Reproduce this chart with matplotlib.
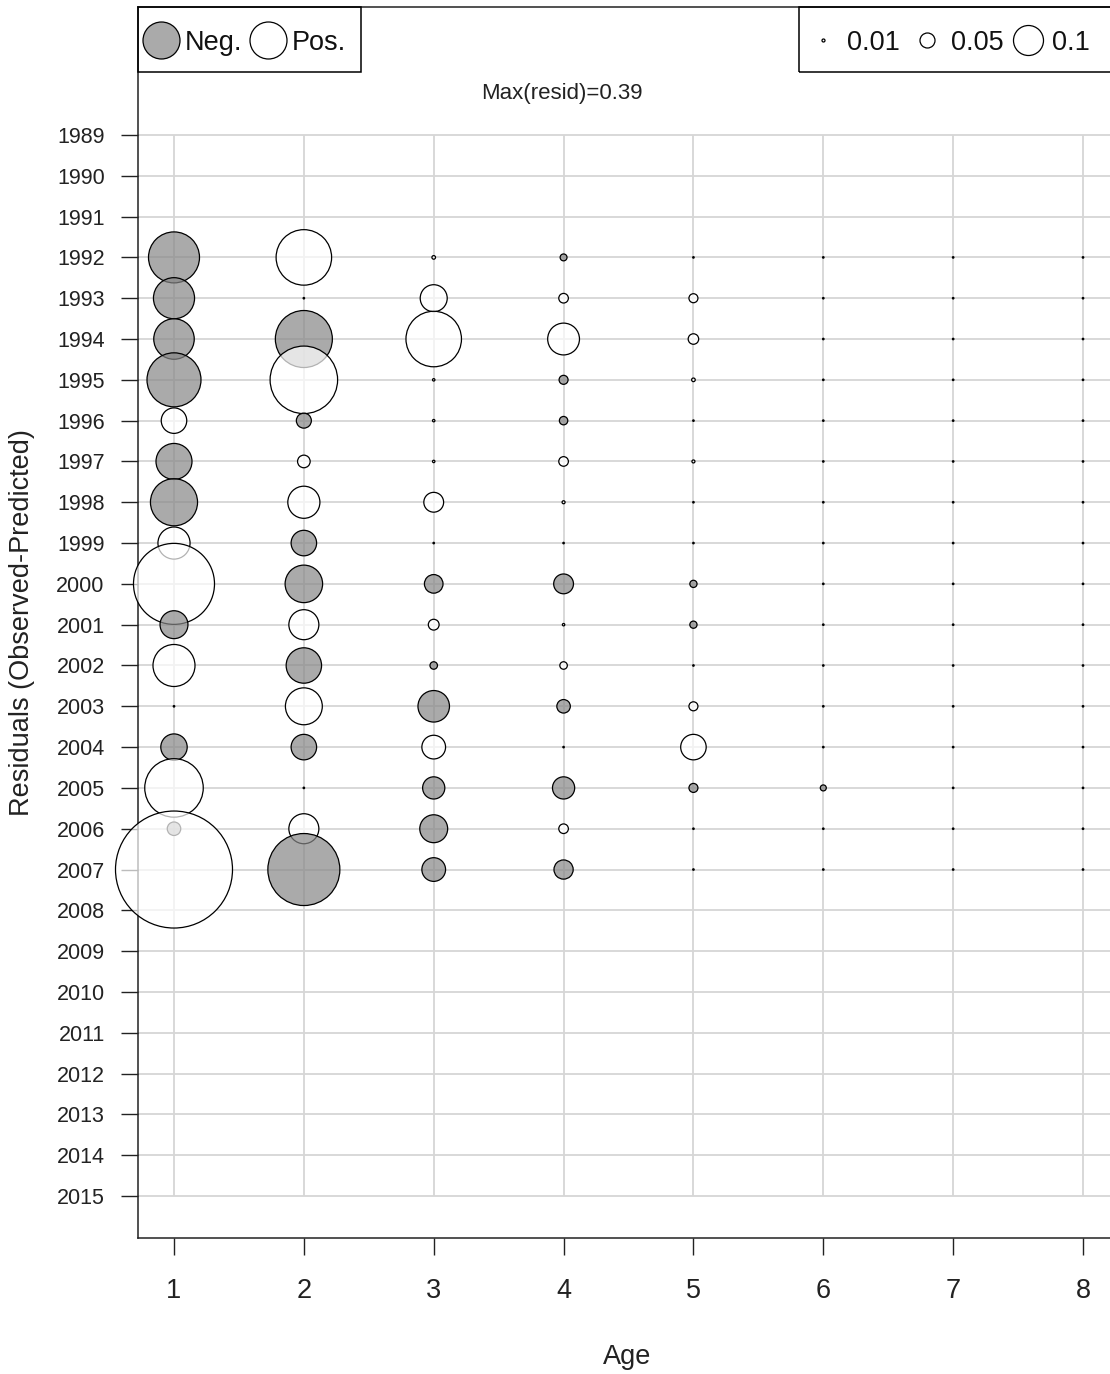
#!/usr/bin/env python3
"""
Bubble plot of age composition residuals (Observed - Predicted) by year and age
"""

import numpy as np
import matplotlib
matplotlib.use("Agg")
import matplotlib.pyplot as plt
from matplotlib.patches import Rectangle

# data: residuals per age, years 1992-2007
years = list(range(1992, 2008))
ages = [1, 2, 3, 4, 5, 6, 7, 8]
tick_years = list(range(1989, 2016))

resid_age1 = [-0.17, -0.137, -0.135, -0.18, 0.085, -0.12, -0.157, 0.107,
              0.27, -0.093, 0.14, 0.005, -0.088, 0.195, -0.045, 0.39]
resid_age2 = [0.185, 0.005, -0.19, 0.225, -0.05, 0.042, 0.107, -0.085,
              -0.125, 0.1, -0.118, 0.123, -0.085, 0.005, 0.1, -0.24]
resid_age3 = [0.012, 0.09, 0.185, 0.008, 0.008, 0.008, 0.066, 0.005,
              -0.062, 0.036, -0.025, -0.105, 0.079, -0.074, -0.093, -0.079]
resid_age4 = [-0.023, 0.032, 0.106, -0.03, -0.028, 0.032, 0.01, 0.005,
              -0.066, 0.008, 0.025, -0.045, 0.005, -0.074, 0.032, -0.064]
resid_age5 = [0.005, 0.03, 0.035, 0.012, 0.005, 0.01, 0.005, 0.005,
              -0.024, -0.024, 0.005, 0.03, 0.085, -0.03, 0.005, 0.005]
resid_age6 = [0.005, 0.005, 0.005, 0.005, 0.005, 0.005, 0.005, 0.005,
              0.005, 0.005, 0.005, 0.005, 0.005, -0.02, 0.005, 0.005]
resid_age7 = [0.005, 0.005, 0.005, 0.005, 0.005, 0.005, 0.005, 0.005,
              0.005, 0.005, 0.005, 0.005, 0.005, 0.005, 0.005, 0.005]
resid_age8 = [0.005, 0.005, 0.005, 0.005, 0.005, 0.005, 0.005, 0.005,
              0.005, 0.005, 0.005, 0.005, 0.005, 0.005, 0.005, 0.005]

size_legend = [0.01, 0.05, 0.1]

# styling
NEG_FILL = (0.53, 0.53, 0.53, 0.7)
POS_FILL = (1.0, 1.0, 1.0, 0.7)
GRID = "#d6d6d6"
PX_PER_UNIT = 150.0  # bubble radius in pixels per unit residual
DPI = 100

plt.rcParams["font.family"] = ["Liberation Sans", "DejaVu Sans"]


def bubble_size(r):
    # scatter size (points^2) for radius proportional to |resid|
    diam_pt = 2 * PX_PER_UNIT * np.abs(r) * 72.0 / DPI
    return diam_pt ** 2


fig = plt.figure(figsize=(11.10, 13.74), dpi=DPI)
ax = fig.add_axes([138 / 1110, 136 / 1374, 972 / 1110, 1231 / 1374])

ax.set_xlim(0.7228, 8.2078)
ax.set_ylim(2016.029, 1985.864)

# grid
ax.hlines(tick_years, 0.7228, 8.2078, color=GRID, lw=1.3, zorder=0)
ax.vlines(ages, tick_years[0], tick_years[-1], color=GRID, lw=1.3, zorder=0)

# bubbles, year by year so later years sit on top
resid = np.array([resid_age1, resid_age2, resid_age3, resid_age4,
                  resid_age5, resid_age6, resid_age7, resid_age8]).T
for yi, yr in enumerate(years):
    vals = resid[yi]
    cols = [NEG_FILL if v < 0 else POS_FILL for v in vals]
    ax.scatter(ages, [yr] * len(ages), s=bubble_size(vals), c=cols,
               edgecolors="black", linewidths=0.9, clip_on=False, zorder=3)

max_resid = np.abs(resid).max()


def axpos(px, py):
    # pixel position -> axes fraction
    return (px - 138) / 972, (1238 - py) / 1231


ax.text(*axpos(562, 93), f"Max(resid)={max_resid:.2f}", transform=ax.transAxes,
        ha="center", va="center", fontsize=16, color="#222222")

# sign legend box (top left)
x0, y0 = axpos(138, 72)
ax.add_patch(Rectangle((x0, y0), (361 - 138) / 972, 65 / 1231, transform=ax.transAxes,
                       fill=False, edgecolor="black", lw=1.1, zorder=5, clip_on=False))
for px, fc, lab in [(161, NEG_FILL, "Neg."), (268, POS_FILL, "Pos.")]:
    ax.scatter(*axpos(px, 40), s=(37 * 0.72) ** 2, c=[fc], edgecolors="black",
               linewidths=0.9, transform=ax.transAxes, clip_on=False, zorder=6)
    ax.text(*axpos(px + 24, 43), lab, transform=ax.transAxes, ha="left", va="center",
            fontsize=19.5, color="#111111")

# size legend box (top right)
x0, y0 = axpos(799, 72)
ax.add_patch(Rectangle((x0, y0), (1120 - 799) / 972, 65 / 1231, transform=ax.transAxes,
                       fill=False, edgecolor="black", lw=1.1, zorder=5, clip_on=False))
for px, v in zip([823, 927, 1028], size_legend):
    ax.scatter(*axpos(px, 40), s=bubble_size(v), c=[POS_FILL], edgecolors="black",
               linewidths=0.9, transform=ax.transAxes, clip_on=False, zorder=6)
    ax.text(*axpos(px + 24, 43), f"{v:g}", transform=ax.transAxes, ha="left", va="center",
            fontsize=19.5, color="#111111")

# axes and ticks
ax.set_xticks(ages)
ax.set_xticklabels([str(a) for a in ages], fontsize=19.5)
ax.set_yticks(tick_years)
ax.set_yticklabels([str(y) for y in tick_years], fontsize=15.5)
ax.tick_params(axis="x", length=12, width=1.0, pad=17, colors="#222222")
ax.tick_params(axis="y", length=12, width=1.0, pad=12, colors="#222222")
for side in ["left", "bottom", "top"]:
    ax.spines[side].set_linewidth(1.1)
    ax.spines[side].set_color("#222222")
ax.spines["right"].set_visible(False)

ax.text(*axpos(627, 1357), "Age", transform=ax.transAxes, ha="center", va="center",
        fontsize=19.5, color="#222222")
ax.text(*axpos(22, 623), "Residuals (Observed-Predicted)", transform=ax.transAxes,
        ha="center", va="center", rotation=90, fontsize=19.5, color="#222222")

fig.savefig("out.png", dpi=DPI)
plt.close(fig)
